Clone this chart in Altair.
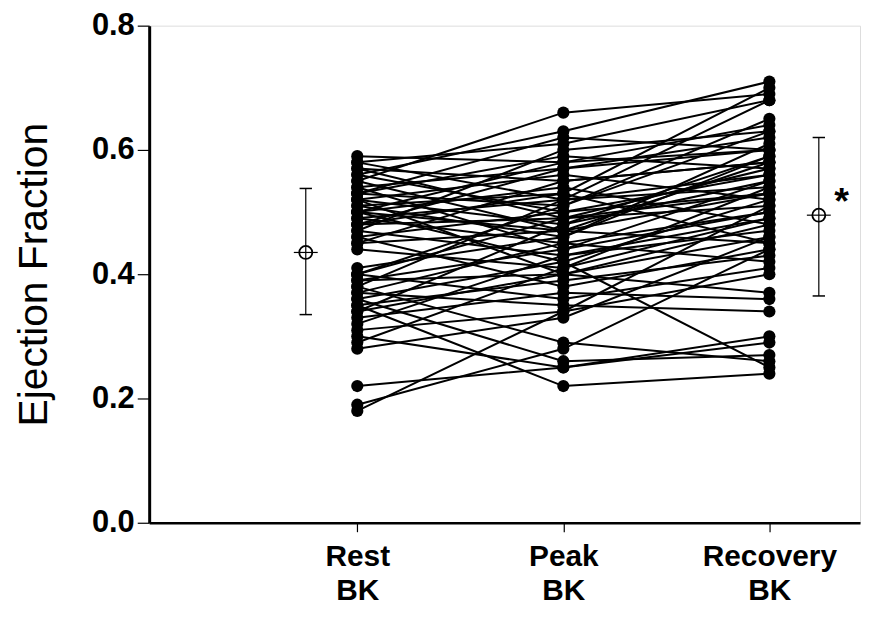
import altair as alt
import pandas as pd

# Per-subject ejection fraction at the three stages
rest = [0.59, 0.58, 0.58, 0.57, 0.56, 0.56, 0.55, 0.55, 0.54, 0.54,
        0.53, 0.53, 0.52, 0.52, 0.52, 0.51, 0.51, 0.50, 0.50, 0.50,
        0.49, 0.49, 0.48, 0.48, 0.47, 0.47, 0.46, 0.46, 0.45, 0.45,
        0.44, 0.41, 0.40, 0.40, 0.39, 0.39, 0.38, 0.38, 0.37, 0.37,
        0.36, 0.36, 0.35, 0.35, 0.34, 0.33, 0.32, 0.31, 0.30, 0.29,
        0.28, 0.22, 0.19, 0.18, 0.57, 0.53, 0.50, 0.48, 0.40, 0.34]
peak = [0.58, 0.52, 0.61, 0.55, 0.63, 0.50, 0.66, 0.47, 0.57, 0.44,
        0.59, 0.51, 0.48, 0.56, 0.40, 0.53, 0.46, 0.54, 0.58, 0.42,
        0.52, 0.45, 0.57, 0.49, 0.43, 0.60, 0.50, 0.38, 0.47, 0.55,
        0.41, 0.46, 0.49, 0.36, 0.44, 0.40, 0.52, 0.29, 0.45, 0.35,
        0.42, 0.26, 0.39, 0.22, 0.48, 0.37, 0.43, 0.34, 0.25, 0.41,
        0.33, 0.25, 0.28, 0.34, 0.49, 0.62, 0.47, 0.53, 0.51, 0.40]
recovery = [0.60, 0.56, 0.68, 0.58, 0.71, 0.53, 0.69, 0.45, 0.62, 0.50,
            0.57, 0.65, 0.55, 0.52, 0.37, 0.70, 0.59, 0.48, 0.64, 0.25,
            0.54, 0.42, 0.60, 0.51, 0.47, 0.63, 0.56, 0.44, 0.53, 0.58,
            0.49, 0.61, 0.57, 0.41, 0.55, 0.46, 0.68, 0.26, 0.50, 0.34,
            0.52, 0.27, 0.43, 0.24, 0.59, 0.36, 0.49, 0.40, 0.30, 0.54,
            0.46, 0.29, 0.44, 0.51, 0.53, 0.60, 0.58, 0.45, 0.63, 0.48]

stage_pos = [1, 2, 3]
stage_labels = [["Rest", "BK"], ["Peak", "BK"], ["Recovery", "BK"]]

# Mean +/- SD markers (left: rest, right: recovery)
summary_x = [0.75, 3.24]
summary_mean = [0.435, 0.495]
summary_lo = [0.335, 0.365]
summary_hi = [0.538, 0.620]

star_x = [3.35]
star_y = [0.515]

rows = []
for i, (a, b, c) in enumerate(zip(rest, peak, recovery)):
    for pos, v in zip(stage_pos, (a, b, c)):
        rows.append({"subject": i, "x": pos, "ef": v})
df = pd.DataFrame(rows)

sdf = pd.DataFrame({"x": summary_x, "mean": summary_mean,
                    "lo": summary_lo, "hi": summary_hi})
sdf["capL"] = sdf["x"] - 0.03
sdf["capR"] = sdf["x"] + 0.03
sdf["crL"] = sdf["x"] - 0.058
sdf["crR"] = sdf["x"] + 0.058

stardf = pd.DataFrame({"x": star_x, "y": star_y, "t": ["*"]})

label_expr = " : ".join(
    f"datum.value == {p} ? {lab!r}" for p, lab in zip(stage_pos, stage_labels)
) + " : ''"

xscale = alt.Scale(domain=[-0.01, 3.44], nice=False, zero=False)
yscale = alt.Scale(domain=[0, 0.8], nice=False)

x_enc = alt.X("x:Q", scale=xscale, axis=alt.Axis(
    values=stage_pos, title=None, grid=False, labelExpr=label_expr,
    labelFontSize=30, labelFont="Liberation Sans", labelFontWeight="bold",
    labelColor="black", labelPadding=10, labelLineHeight=34,
    domainColor="black", domainWidth=2.5, tickColor="black", tickSize=9,
    tickWidth=1.2))
y_enc = alt.Y("ef:Q", scale=yscale, axis=alt.Axis(
    values=[0, 0.2, 0.4, 0.6, 0.8], format=".1f", title="Ejection Fraction",
    titleFontSize=41, titleFont="Liberation Sans", titleFontWeight="normal",
    titleColor="black", titlePadding=36,
    labelFontSize=31, labelFont="Liberation Sans", labelFontWeight="bold",
    labelColor="black", labelPadding=3, grid=False,
    domainColor="black", domainWidth=3, tickColor="black", tickSize=12,
    tickWidth=1.2))

lines = alt.Chart(df).mark_line(color="black", strokeWidth=2.0).encode(
    x=x_enc, y=y_enc, detail="subject:N")
points = alt.Chart(df).mark_circle(color="black", opacity=1, size=150).encode(
    x="x:Q", y="ef:Q")

bars = alt.Chart(sdf).mark_rule(color="black", strokeWidth=1.2).encode(
    x="x:Q", y="lo:Q", y2="hi:Q")
capsLo = alt.Chart(sdf).mark_rule(color="black", strokeWidth=1.5).encode(
    x="capL:Q", x2="capR:Q", y="lo:Q")
capsHi = alt.Chart(sdf).mark_rule(color="black", strokeWidth=1.5).encode(
    x="capL:Q", x2="capR:Q", y="hi:Q")
cross = alt.Chart(sdf).mark_rule(color="black", strokeWidth=1.2).encode(
    x="crL:Q", x2="crR:Q", y="mean:Q")
ring = alt.Chart(sdf).mark_point(shape="circle", filled=False, color="black",
                                 size=170, strokeWidth=1.8, opacity=1).encode(
    x="x:Q", y="mean:Q")
star = alt.Chart(stardf).mark_text(fontSize=38, fontWeight="bold", color="black",
                                   font="Liberation Sans", baseline="middle").encode(
    x="x:Q", y="y:Q", text="t:N")

chart = alt.layer(lines, points, bars, capsLo, capsHi, cross, ring, star).properties(
    width=715, height=500,
    padding={"left": 142, "top": 16, "right": 5, "bottom": 87},
    autosize=alt.AutoSizeParams(type="none"),
).configure_view(stroke=None).configure(background="white")

chart.save("out.html", embed_options={"renderer": "svg", "actions": False})
